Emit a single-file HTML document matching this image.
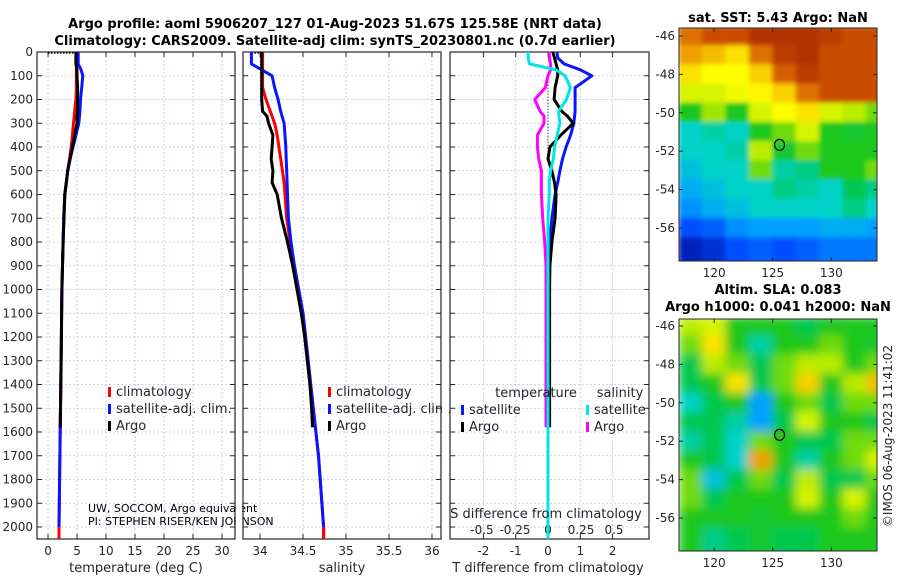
<!DOCTYPE html>
<html><head><meta charset="utf-8">
<style>
body{margin:0;background:#fff;}
svg{font-family:"DejaVu Sans","Liberation Sans",sans-serif;}
.t{font-weight:bold;font-size:13px;}
.tk{font-size:12px;fill:#262626;}
</style></head><body>
<svg id="c" width="900" height="580" viewBox="0 0 900 580">
<text class="t" x="335" y="28" text-anchor="middle">Argo profile: aoml 5906207_127 01-Aug-2023 51.67S 125.58E (NRT data)</text>
<text class="t" x="335" y="45" text-anchor="middle">Climatology: CARS2009. Satellite-adj clim: synTS_20230801.nc (0.7d earlier)</text>
<text class="t" x="778" y="22" text-anchor="middle">sat. SST: 5.43 Argo: NaN</text>
<text class="t" x="778" y="294" text-anchor="middle">Altim. SLA: 0.083</text>
<text class="t" x="778" y="311" text-anchor="middle">Argo h1000: 0.041 h2000: NaN</text>
<text x="892" y="436" font-size="12" fill="#262626" transform="rotate(-90 892 436)" text-anchor="middle">©IMOS 06-Aug-2023 11:41:02</text>
</svg>
<script>
const depths=[0,25,50,75,100,150,200,250,300,350,400,450,500,550,600,700,800,900,1000,1100,1200,1300,1400,1500,1600,1700,1800,1900,2000,2050];
const tClim=[4.9,4.9,4.9,4.9,4.9,4.9,4.8,4.6,4.4,4.2,4.0,3.7,3.4,3.15,2.9,2.7,2.6,2.5,2.4,2.35,2.3,2.25,2.2,2.15,2.1,2.05,2.0,1.95,1.9,1.9];
const tSat=[5.2,5.2,5.2,5.7,6.0,5.8,5.6,5.5,5.3,4.8,4.3,3.8,3.4,3.15,2.9,2.7,2.6,2.5,2.4,2.35,2.3,2.25,2.2,2.15,2.1,2.05,2.0,1.95,1.9,1.9];
const argoDepths=[0,25,50,75,100,150,200,250,270,300,350,400,450,500,550,600,700,800,900,1000,1100,1200,1300,1400,1500,1580];
const tArgo=[4.8,4.8,4.8,5.0,5.0,5.1,5.1,5.1,5.0,5.0,4.6,4.2,3.8,3.4,3.15,2.9,2.75,2.6,2.5,2.4,2.35,2.3,2.25,2.2,2.15,2.1];
const sClim=[34.03,34.03,34.03,34.03,34.03,34.03,34.07,34.12,34.17,34.2,34.22,34.24,34.26,34.28,34.29,34.31,34.35,34.4,34.45,34.5,34.53,34.56,34.59,34.62,34.65,34.68,34.7,34.72,34.74,34.74];
const sSat=[33.9,33.9,33.9,34.02,34.14,34.17,34.21,34.24,34.28,34.29,34.3,34.305,34.31,34.315,34.32,34.33,34.36,34.4,34.45,34.5,34.53,34.56,34.59,34.62,34.65,34.68,34.7,34.72,34.74,34.74];
const sArgo=[34.02,34.02,34.02,34.02,34.02,34.02,34.02,34.03,34.08,34.1,34.15,34.14,34.13,34.15,34.14,34.2,34.25,34.32,34.38,34.43,34.48,34.52,34.55,34.58,34.6,34.61];
const dTSat=[0.28,0.3,0.5,1.0,1.36,0.84,0.84,0.84,0.8,0.7,0.56,0.45,0.37,0.3,0.22,0.12,0.06,0.03,0.02,0.01,0.01,0.01,0,0,0,0,0,0,0,0];
const dTArgo=[0.15,0.2,0.25,0.3,0.3,0.22,0.19,0.43,0.6,0.78,0.4,0.06,0.0,0.12,0.2,0.25,0.22,0.12,0.06,0.05,0.05,0.05,0.05,0.05,0.05,0.05];
const dSSat=[-0.15,-0.15,-0.14,0.06,0.13,0.17,0.14,0.08,0.09,0.07,0.05,0.04,0.02,0.01,0.01,0,0,0,0,0,0,0,0,0,0,0,0,0,0,0];
const dSArgo=[0.01,0.01,0.02,0.02,0.0,-0.02,-0.1,-0.06,-0.03,-0.03,-0.08,-0.08,-0.07,-0.05,-0.05,-0.05,-0.04,-0.025,-0.015,-0.015,-0.015,-0.015,-0.015,-0.015,-0.015,-0.015];
const depthTicks=[0,100,200,300,400,500,600,700,800,900,1000,1100,1200,1300,1400,1500,1600,1700,1800,1900,2000];
const tTicks=[0,5,10,15,20,25,30];
const sTicks=[34,34.5,35,35.5,36];
const sTickLabels=["34","34.5","35","35.5","36"];
const dTTicks=[-2,-1,0,1,2];
const dSTicks=[-0.5,-0.25,0,0.25,0.5];
const dSTickLabels=["-0.5","-0.25","0","0.25","0.5"];
const mapLats=[-46,-47,-48,-49,-50,-51,-52,-53,-54,-55,-56,-57];
const mapLons=[118,120,122,124,126,128,130,132,134];
const latTicks=[-46,-48,-50,-52,-54,-56];
const lonTicks=[120,125,130];
const sst=[
[.8,.85,.85,.9,.9,.9,.88,.85,.85],
[.75,.72,.68,.8,.88,.9,.85,.85,.85],
[.68,.65,.65,.7,.82,.88,.85,.85,.85],
[.62,.62,.64,.66,.7,.8,.85,.85,.85],
[.5,.58,.5,.62,.65,.68,.62,.6,.55],
[.38,.4,.38,.5,.55,.62,.5,.48,.5],
[.38,.38,.4,.6,.48,.55,.5,.5,.5],
[.35,.38,.38,.55,.4,.42,.5,.5,.55],
[.32,.35,.38,.38,.42,.4,.38,.45,.42],
[.28,.32,.35,.38,.38,.38,.38,.42,.38],
[.2,.22,.28,.3,.3,.3,.32,.32,.3],
[.12,.15,.2,.22,.2,.22,.25,.25,.25]];
const sla=[
[.6,.62,.5,.5,.5,.45,.5,.5,.5],
[.55,.68,.5,.4,.5,.5,.55,.5,.48],
[.45,.6,.55,.45,.55,.6,.6,.5,.55],
[.45,.5,.68,.45,.55,.7,.5,.6,.72],
[.38,.45,.5,.3,.5,.55,.45,.55,.55],
[.45,.45,.4,.3,.45,.62,.5,.5,.45],
[.4,.45,.38,.55,.5,.45,.45,.55,.55],
[.5,.45,.38,.75,.5,.4,.5,.55,.62],
[.55,.35,.45,.55,.45,.6,.45,.45,.55],
[.55,.45,.5,.5,.5,.62,.5,.62,.5],
[.5,.5,.5,.48,.5,.5,.5,.55,.5],
[.5,.42,.45,.48,.45,.45,.5,.5,.5]];
const argoLon=125.58, argoLat=-51.67;

const svg=document.getElementById('c');
const NS='http://www.w3.org/2000/svg';
function mk(tag,attrs,parent){const e=document.createElementNS(NS,tag);for(const k in attrs)e.setAttribute(k,attrs[k]);(parent||svg).appendChild(e);return e;}
const Y0=52,YS=0.2375;
function yD(d){return Y0+d*YS;}
function panel(x0,x1,xmin,xmax,name){
  const fx=v=>x0+(v-xmin)/(xmax-xmin)*(x1-x0);
  const g=mk('g',{});
  
  
  return {fx,g,x0,x1};
}
function frame(p,xt,xl,yLabels,gridName){
  xt.forEach(v=>{const x=p.fx(v);
    const l=mk('line',{x1:x,x2:x,y1:52,y2:539,stroke:'#b8c4ee','stroke-width':0.8,'stroke-dasharray':'2,2'},p.g);
    
    mk('line',{x1:x,x2:x,y1:539,y2:534,stroke:'#262626'},p.g);
    mk('line',{x1:x,x2:x,y1:52,y2:57,stroke:'#262626'},p.g);});
  depthTicks.forEach(d=>{const y=yD(d);
    const l=mk('line',{x1:p.x0,x2:p.x1,y1:y,y2:y,stroke:'#b8c4ee','stroke-width':0.8,'stroke-dasharray':'2,2'},p.g);
    
    mk('line',{x1:p.x0,x2:p.x0+5,y1:y,y2:y,stroke:'#262626'},p.g);
    mk('line',{x1:p.x1,x2:p.x1-5,y1:y,y2:y,stroke:'#262626'},p.g);
    if(yLabels){const t=mk('text',{x:p.x0-4,y:y+4,'text-anchor':'end',class:'tk'},p.g);t.textContent=d;
      }
  });
  const r=mk('rect',{x:p.x0,y:52,width:p.x1-p.x0,height:487,fill:'none',stroke:'#262626','stroke-width':1.2},p.g);
  
}
function xLabels(p,vals,labels,y,name){vals.forEach((v,i)=>{const t=mk('text',{x:p.fx(v),y:y,'text-anchor':'middle',class:'tk'},p.g);t.textContent=labels?labels[i]:v;
  });}
function line(p,xs,ds,color,name,w){const pts=xs.map((v,i)=>p.fx(v).toFixed(1)+','+yD(ds[i]).toFixed(1)).join(' ');
  const l=mk('polyline',{points:pts,fill:'none',stroke:color,'stroke-width':w||3,'stroke-linejoin':'round'},p.g);
  }
function legend(x,y,items,g){items.forEach((it,i)=>{const yy=y+i*17;
  mk('rect',{x:x,y:yy-9,width:3,height:10,fill:it[1]},g);
  const t=mk('text',{x:x+8,y:yy,'font-size':13,fill:'#262626'},g);t.textContent=it[0];
  });}
function label(x,y,txt,name,size){const t=mk('text',{x:x,y:y,'text-anchor':'middle','font-size':size||13,fill:'#262626'});t.textContent=txt;
  }

const p1=panel(37,235,-1.9,32.24,'temperature-panel');
frame(p1,tTicks,null,true,'temperature');
xLabels(p1,tTicks,null,555,'temperature-tick-label');
mk('line',{x1:p1.fx(0),x2:p1.fx(tArgo[0]),y1:53,y2:53,stroke:'#000','stroke-width':1.5,'stroke-dasharray':'1.5,1.5'},p1.g);
line(p1,tClim,depths,'#ff0000','temperature-climatology-line');
line(p1,tSat,depths,'#0a14ff','temperature-satellite-line');
line(p1,tArgo,argoDepths,'#000','temperature-argo-line');
line(p1,tClim.slice(28),depths.slice(28),'#ff0000','temperature-climatology-bottom');
legend(108,396,[['climatology','#ff0000'],['satellite-adj. clim.','#0a14ff'],['Argo','#000']],p1.g);
label(136,572,'temperature (deg C)','temperature-axis-title');
const c1=mk('text',{x:88,y:512,'font-size':11,fill:'#000'});c1.textContent='UW, SOCCOM, Argo equivalent';

const c2=mk('text',{x:88,y:525,'font-size':11,fill:'#000'});c2.textContent='PI: STEPHEN RISER/KEN JOHNSON';

mk('rect',{x:236,y:495,width:6,height:40,fill:'#fff'});

const p2=panel(243,441,33.802,36.105,'salinity-panel');
frame(p2,sTicks,null,false,'salinity');
xLabels(p2,sTicks,sTickLabels,555,'salinity-tick-label');
mk('line',{x1:p2.fx(33.9),x2:p2.fx(34.02),y1:53,y2:53,stroke:'#000','stroke-width':1.5,'stroke-dasharray':'1.5,1.5'},p2.g);
line(p2,sClim,depths,'#ff0000','salinity-climatology-line');
line(p2,sSat,depths,'#0a14ff','salinity-satellite-line');
line(p2,sArgo,argoDepths,'#000','salinity-argo-line');
line(p2,sClim.slice(28),depths.slice(28),'#ff0000','salinity-climatology-bottom');
legend(328,396,[['climatology','#ff0000'],['satellite-adj. clim.','#0a14ff'],['Argo','#000']],p2.g);
mk('rect',{x:442,y:380,width:7,height:60,fill:'#fff'});
label(342,572,'salinity','salinity-axis-title');

const p3=panel(450,649,-3.034,3.127,'difference-panel');
frame(p3,dTTicks,null,false,'difference');
xLabels(p3,dTTicks,null,555,'t-difference-tick-label');
const p3s=panel(450,649,-0.742,0.765,'s-difference-scale');
xLabels(p3s,dSTicks,dSTickLabels,534,'s-difference-tick-label');
mk('line',{x1:548,x2:548,y1:yD(100),y2:yD(420),stroke:'#000','stroke-width':1,'stroke-dasharray':'1,2'},p3.g);
line(p3,dTSat,depths,'#0a14ff','t-difference-satellite-line');
line(p3,dTArgo,argoDepths,'#000','t-difference-argo-line');
line(p3s,dSArgo,argoDepths,'#ff00ff','s-difference-argo-line');
line(p3s,dSSat,depths,'#00e5e5','s-difference-satellite-line');
label(536,397,'temperature','legend-temperature-heading');
label(620,397,'salinity','legend-salinity-heading');
legend(461,414,[['satellite','#0a14ff'],['Argo','#000']],p3.g);
legend(586,414,[['satellite','#00e5e5'],['Argo','#ff00ff']],p3.g);
label(546,518,'S difference from climatology','s-difference-axis-title');
label(548,572,'T difference from climatology','t-difference-axis-title');

const cstops=[[0,[0,0,120]],[0.1,[0,20,170]],[0.2,[0,80,255]],[0.3,[0,160,255]],[0.38,[0,210,200]],[0.45,[0,200,80]],[0.5,[30,200,30]],[0.58,[160,230,0]],[0.65,[255,255,0]],[0.75,[240,160,0]],[0.82,[215,95,0]],[0.9,[180,50,0]],[1,[140,20,0]]];
function cmap(v){for(let i=1;i<cstops.length;i++){if(v<=cstops[i][0]){const a=cstops[i-1],b=cstops[i];const t=(v-a[0])/(b[0]-a[0]);
  return 'rgb('+a[1].map((c,k)=>Math.round(c+(b[1][k]-c)*t)).join(',')+')';}}return 'rgb(140,20,0)';}
function map(y0,y1,latTop,grid,name,filt){
  const x0=679,x1=877,lonMin=117.0,lonMax=133.9;
  const fx=v=>x0+(v-lonMin)/(lonMax-lonMin)*(x1-x0);
  const fy=v=>latTop.y46+(-46-v)*latTop.s;
  const g=mk('g',{});
  const cid='clip'+name;const cp=mk('clipPath',{id:cid},g);mk('rect',{x:x0,y:y0,width:x1-x0,height:y1-y0},cp);
  const inner=mk('g',{'clip-path':'url(#'+cid+')'},g);
  const ig=mk('g',{filter:'url(#'+filt+')'},inner);
  grid.forEach((row,i)=>row.forEach((v,j)=>{
    const cx=fx(mapLons[j]),cy=fy(mapLats[i]);const w=(fx(2)-fx(0)),h=latTop.s;
    const r=mk('rect',{x:cx-w/2-0.5,y:cy-h/2-0.5,width:w+1,height:h+(i==grid.length-1?20:1),fill:cmap(v)},ig);
    }));
  mk('rect',{x:x0,y:y0,width:x1-x0,height:y1-y0,fill:'none',stroke:'#262626','stroke-width':1},g);
  latTicks.forEach(l=>{const y=fy(l);mk('line',{x1:x0,x2:x0+4,y1:y,y2:y,stroke:'#262626'},g);mk('line',{x1:x1,x2:x1-4,y1:y,y2:y,stroke:'#262626'},g);
    const t=mk('text',{x:x0-4,y:y+4,'text-anchor':'end',class:'tk'},g);t.textContent=l;});
  lonTicks.forEach(l=>{const x=fx(l);mk('line',{x1:x,x2:x,y1:y1,y2:y1-4,stroke:'#262626'},g);mk('line',{x1:x,x2:x,y1:y0,y2:y0+4,stroke:'#262626'},g);
    const t=mk('text',{x:x,y:y1+16,'text-anchor':'middle',class:'tk'},g);t.textContent=l;});
  const c=mk('ellipse',{cx:fx(argoLon),cy:fy(argoLat),rx:5,ry:5.5,fill:filt=='bl'?'#30c020':'none',stroke:'#000','stroke-width':1.2},g);
  
}
const defs=mk('defs',{});
const f=mk('filter',{id:'bl',x:'-10%',y:'-10%',width:'120%',height:'120%'},defs);mk('feGaussianBlur',{stdDeviation:5},f);
const f2=mk('filter',{id:'bs',x:'-10%',y:'-10%',width:'120%',height:'120%'},defs);mk('feGaussianBlur',{stdDeviation:2.5},f2);
map(28,261,{y46:36,s:19.2},sst,'sst-map','bs');
map(319,551,{y46:326,s:19.2},sla,'sla-map','bl');
</script>
</body></html>
